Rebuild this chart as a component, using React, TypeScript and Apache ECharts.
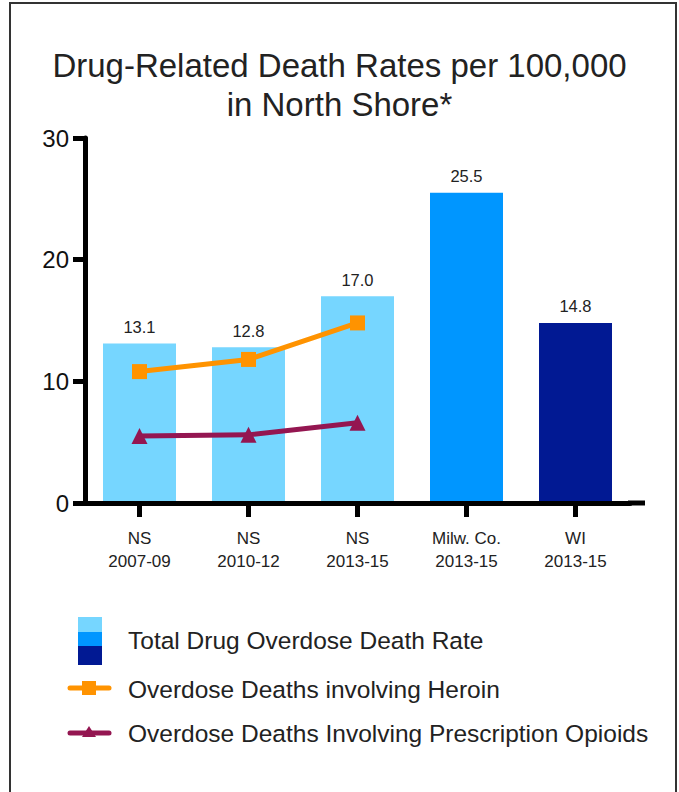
import React, { useEffect, useRef } from "react";
import * as echarts from "echarts";

const categories = ["NS\n2007-09", "NS\n2010-12", "NS\n2013-15", "Milw. Co.\n2013-15", "WI\n2013-15"];
const totalRates = [13.1, 12.8, 17.0, 25.5, 14.8];
const heroinRates = [10.8, 11.8, 14.8];
const rxOpioidRates = [5.5, 5.6, 6.6];
const barColors = ["#76D6FF", "#76D6FF", "#76D6FF", "#0096FF", "#011993"];
const yMin = 0;
const yMax = 30;
const yStep = 10;
const titleText = "Drug-Related Death Rates per 100,000\nin North Shore*";
const legendLabels = [
  "Total Drug Overdose Death Rate",
  "Overdose Deaths involving Heroin",
  "Overdose Deaths Involving Prescription Opioids",
];

const FONT = "Arial, Liberation Sans, Helvetica, sans-serif";
const ORANGE = "#FF9300";
const MAROON = "#941651";

export default function App() {
  const ref = useRef<HTMLDivElement>(null);
  useEffect(() => {
    if (!ref.current) return;
    const chart = echarts.init(ref.current, undefined, { renderer: "svg" });
    const pad = (arr: number[]) => categories.map((_, i) => (i < arr.length ? arr[i] : "-"));
    const legendText = (y: number, text: string) => ({
      type: "text",
      x: 128,
      y,
      style: { text, fontFamily: FONT, fontSize: 24.5, fill: "#222", verticalAlign: "middle" },
    });
    chart.setOption({
      animation: false,
      backgroundColor: "#ffffff",
      textStyle: { fontFamily: FONT },
      title: {
        text: titleText,
        left: "center",
        top: 41,
        textStyle: { fontFamily: FONT, fontSize: 33, fontWeight: "normal", lineHeight: 39, color: "#222" },
      },
      grid: { left: 85, right: 49, top: 138, bottom: 289, containLabel: false },
      xAxis: {
        type: "category",
        data: categories,
        boundaryGap: true,
        axisLine: { show: true, lineStyle: { color: "#000", width: 5 } },
        axisTick: { show: true, alignWithLabel: true, length: 14, lineStyle: { color: "#000", width: 5 } },
        axisLabel: { fontFamily: FONT, fontSize: 17, color: "#222", lineHeight: 23, margin: 24 },
        z: 10,
      },
      yAxis: {
        type: "value",
        min: yMin,
        max: yMax,
        interval: yStep,
        splitLine: { show: false },
        axisLine: { show: true, lineStyle: { color: "#000", width: 5 } },
        axisTick: { show: true, length: 12, lineStyle: { color: "#000", width: 5 } },
        axisLabel: { fontFamily: FONT, fontSize: 24, color: "#111", margin: 16 },
        z: 10,
      },
      series: [
        {
          name: legendLabels[0],
          type: "bar",
          barWidth: 73,
          data: totalRates.map((v, i) => ({ value: v, itemStyle: { color: barColors[i] } })),
          label: {
            show: true,
            position: "top",
            distance: 8,
            fontFamily: FONT,
            fontSize: 16.5,
            color: "#222",
            formatter: (p: any) => Number(p.value).toFixed(1),
          },
          z: 2,
        },
        {
          name: legendLabels[1],
          type: "line",
          data: pad(heroinRates),
          symbol: "rect",
          symbolSize: 15,
          lineStyle: { color: ORANGE, width: 5 },
          itemStyle: { color: ORANGE },
          z: 5,
        },
        {
          name: legendLabels[2],
          type: "line",
          data: pad(rxOpioidRates),
          symbol: "triangle",
          symbolSize: 16,
          lineStyle: { color: MAROON, width: 5 },
          itemStyle: { color: MAROON },
          z: 5,
        },
      ],
      graphic: [
        {
          type: "rect",
          shape: { x: 10, y: 3, width: 666, height: 900 },
          style: { fill: "none", stroke: "#333", lineWidth: 2 },
          silent: true,
        },
        {
          type: "line",
          shape: { x1: 628, y1: 503, x2: 645, y2: 503 },
          style: { stroke: "#000", lineWidth: 5 },
        },
        { type: "rect", shape: { x: 78, y: 617, width: 24, height: 15 }, style: { fill: barColors[0] } },
        { type: "rect", shape: { x: 78, y: 632, width: 24, height: 14 }, style: { fill: barColors[3] } },
        { type: "rect", shape: { x: 78, y: 646, width: 24, height: 19 }, style: { fill: barColors[4] } },
        legendText(640, legendLabels[0]),
        {
          type: "line",
          shape: { x1: 70, y1: 688, x2: 109, y2: 688 },
          style: { stroke: ORANGE, lineWidth: 5, lineCap: "round" },
        },
        { type: "rect", shape: { x: 82, y: 681, width: 14, height: 14 }, style: { fill: ORANGE } },
        legendText(689, legendLabels[1]),
        {
          type: "line",
          shape: { x1: 70, y1: 733, x2: 109, y2: 733 },
          style: { stroke: MAROON, lineWidth: 5, lineCap: "round" },
        },
        {
          type: "polygon",
          shape: { points: [[89, 726], [96, 737], [82, 737]] },
          style: { fill: MAROON },
        },
        legendText(733, legendLabels[2]),
      ],
    });
    return () => chart.dispose();
  }, []);
  return (
    <div
      ref={ref}
      style={{ position: "fixed", left: 0, top: 0, width: 679, height: 792, background: "#fff" }}
    />
  );
}
